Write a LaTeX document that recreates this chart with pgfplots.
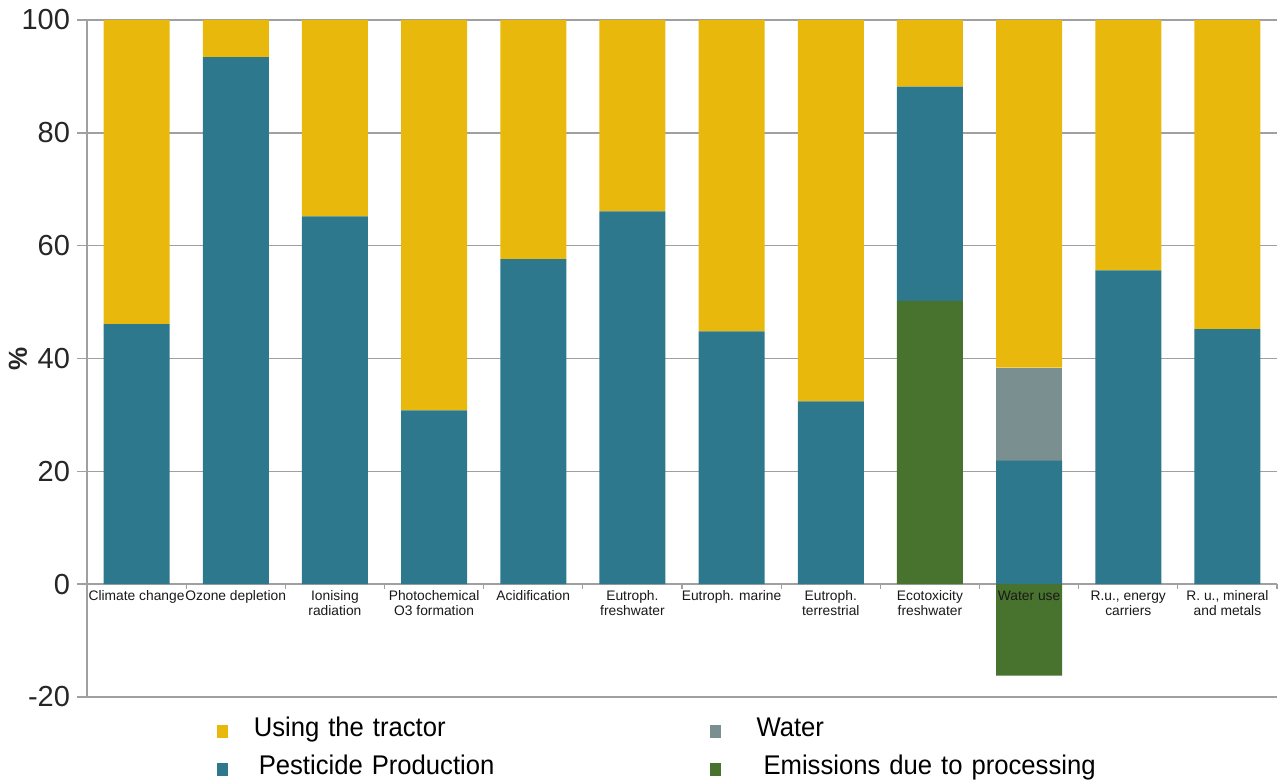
\documentclass[border=0pt]{standalone}
\usepackage{fontspec}
\setmainfont{Liberation Sans}
\newfontfamily\legfont[FakeStretch=0.95]{Liberation Sans}
\usepackage{pgfplots}
\pgfplotsset{compat=1.18}
\definecolor{tractor}{HTML}{E8B90C}
\definecolor{pest}{HTML}{2D788C}
\definecolor{water}{HTML}{7A8F8F}
\definecolor{emis}{HTML}{48732E}
\definecolor{gridgray}{HTML}{A0A0A0}
\begin{document}
\begin{tikzpicture}
\useasboundingbox (-43.5pt,-42.5pt) rectangle (595.5pt,348.5pt);
\begin{axis}[
  at={(0pt,0pt)}, anchor=south west,
  scale only axis, width=595pt, height=338.5pt,
  xmin=-0.5, xmax=11.5, ymin=-20, ymax=100,
  ybar stacked, bar width=33pt,
  axis x line*=middle, axis y line*=left,
  axis line style={gridgray, line width=0.7pt},
  ytick={-20,0,20,40,60,80,100},
  ymajorgrids, grid style={gridgray, line width=0.7pt},
  xtick={0,...,11}, xticklabels={},
  minor xtick={-0.5,0.5,...,11.5},
  major x tick style={draw=none},
  minor x tick style={gridgray, line width=0.6pt},
  major y tick style={gridgray, line width=0.7pt},
  xtick align=outside, ytick align=outside,
  major tick length=5pt, minor tick length=2.5pt,
  /pgf/number format/assume math mode=true,
  yticklabel style={font=\fontsize{14.5}{16}\selectfont, text=black!85},
  ylabel={\%},
  every axis y label/.style={at={(axis description cs:-0.058,0.5)}, rotate=90, anchor=center, font=\bfseries\fontsize{13}{16}\selectfont, text=black!85},
  legend image code/.code={\fill[#1] (0pt,0pt) rectangle (5pt,6pt);},
  legend columns=2, transpose legend,
  legend style={at={(0.1092,-0.0295)}, anchor=north west, draw=none, fill=none,
    inner sep=0pt, outer sep=0pt, row sep=6pt, font=\legfont\fontsize{13.5}{15}\selectfont,
    nodes={inner sep=0pt, text width=228pt, text height=10pt, text depth=3pt, anchor=base west},
    /tikz/every odd column/.append style={column sep=13pt},
    /tikz/every even column/.append style={column sep=0pt}},
]
% emissions due to processing
\addplot[fill=emis, draw=none, forget plot] coordinates {(0,0) (1,0) (2,0) (3,0) (4,0) (5,0) (6,0) (7,0) (8,50.2) (9,-16.2) (10,0) (11,0)};
% pesticide production
\addplot[fill=pest, draw=none, forget plot] coordinates {(0,46.1) (1,93.4) (2,65.2) (3,30.8) (4,57.6) (5,66.1) (6,44.8) (7,32.4) (8,38.0) (9,21.9) (10,55.6) (11,45.2)};
% water
\addplot[fill=water, draw=none, forget plot] coordinates {(0,0) (1,0) (2,0) (3,0) (4,0) (5,0) (6,0) (7,0) (8,0) (9,16.5) (10,0) (11,0)};
% using the tractor
\addplot[fill=tractor, draw=none, forget plot] coordinates {(0,53.9) (1,6.6) (2,34.8) (3,69.2) (4,42.4) (5,33.9) (6,55.2) (7,67.6) (8,11.8) (9,61.6) (10,44.4) (11,54.8)};
\addlegendimage{tractor}
\addlegendentry{Using the tractor}
\addlegendimage{pest}
\addlegendentry{\hspace{2.5pt}Pesticide Production}
\addlegendimage{water}
\addlegendentry{\hspace{5pt}Water}
\addlegendimage{emis}
\addlegendentry{\hspace{8.5pt}Emissions due to processing}
\end{axis}
\begin{axis}[
  at={(0pt,0pt)}, anchor=south west,
  scale only axis, width=595pt, height=338.5pt,
  xmin=-0.5, xmax=11.5, ymin=-20, ymax=100,
  axis x line*=middle, axis y line=none,
  x axis line style={draw=none},
  xtick={0,...,11}, major tick length=0pt, ytick=\empty,
  xticklabels={Climate change, Ozone depletion, Ionising\\radiation, Photochemical\\O3 formation, Acidification, Eutroph.\\freshwater, Eutroph. marine, Eutroph.\\terrestrial, Ecotoxicity\\freshwater, Water use, {R.u., energy\\carriers}, {R. u., mineral\\and metals}},
  xticklabel style={align=center, font=\fontsize{6.9}{7.5}\selectfont, text=black!90, anchor=north, inner sep=0pt, yshift=-3pt},
]
\addplot[draw=none] coordinates {(0,0)};
\end{axis}
\end{tikzpicture}
\end{document}
